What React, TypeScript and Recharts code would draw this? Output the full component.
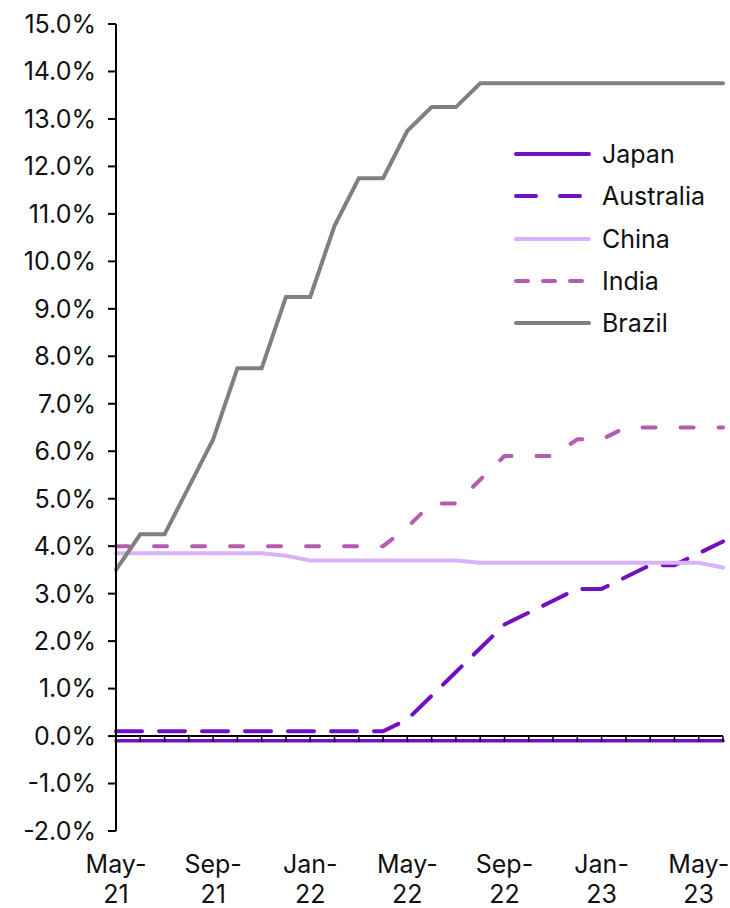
import { LineChart, Line, XAxis, YAxis, ReferenceLine, ReferenceDot } from 'recharts';

// monthly policy rates, May-21 .. Jun-23
const months = [
  'May-21', 'Jun-21', 'Jul-21', 'Aug-21', 'Sep-21', 'Oct-21', 'Nov-21', 'Dec-21',
  'Jan-22', 'Feb-22', 'Mar-22', 'Apr-22', 'May-22', 'Jun-22', 'Jul-22', 'Aug-22',
  'Sep-22', 'Oct-22', 'Nov-22', 'Dec-22', 'Jan-23', 'Feb-23', 'Mar-23', 'Apr-23',
  'May-23', 'Jun-23',
];
const japan = [
  -0.1, -0.1, -0.1, -0.1, -0.1, -0.1, -0.1, -0.1, -0.1, -0.1, -0.1, -0.1, -0.1,
  -0.1, -0.1, -0.1, -0.1, -0.1, -0.1, -0.1, -0.1, -0.1, -0.1, -0.1, -0.1, -0.1,
];
const australia = [
  0.1, 0.1, 0.1, 0.1, 0.1, 0.1, 0.1, 0.1, 0.1, 0.1, 0.1, 0.1, 0.35,
  0.85, 1.35, 1.85, 2.35, 2.6, 2.85, 3.1, 3.1, 3.35, 3.6, 3.6, 3.85, 4.1,
];
const china = [
  3.85, 3.85, 3.85, 3.85, 3.85, 3.85, 3.85, 3.8, 3.7, 3.7, 3.7, 3.7, 3.7,
  3.7, 3.7, 3.65, 3.65, 3.65, 3.65, 3.65, 3.65, 3.65, 3.65, 3.65, 3.65, 3.55,
];
const india = [
  4.0, 4.0, 4.0, 4.0, 4.0, 4.0, 4.0, 4.0, 4.0, 4.0, 4.0, 4.0, 4.4,
  4.9, 4.9, 5.4, 5.9, 5.9, 5.9, 6.25, 6.25, 6.5, 6.5, 6.5, 6.5, 6.5,
];
const brazil = [
  3.5, 4.25, 4.25, 5.25, 6.25, 7.75, 7.75, 9.25, 9.25, 10.75, 11.75, 11.75, 12.75,
  13.25, 13.25, 13.75, 13.75, 13.75, 13.75, 13.75, 13.75, 13.75, 13.75, 13.75, 13.75, 13.75,
];
const yTicks = [-2, -1, 0, 1, 2, 3, 4, 5, 6, 7, 8, 9, 10, 11, 12, 13, 14, 15];

const FONT = 'Inter, "Noto Sans", sans-serif';
const FS = 25;

const series = [
  { key: 'Japan', color: '#7010c0', dash: undefined as string | undefined, legendDash: undefined as string | undefined },
  { key: 'Australia', color: '#7010c0', dash: '26 17', legendDash: '20 24' },
  { key: 'China', color: '#dab2fb', dash: undefined, legendDash: undefined },
  { key: 'India', color: '#b65cb0', dash: '13 25', legendDash: '12 15' },
  { key: 'Brazil', color: '#808080', dash: undefined, legendDash: undefined },
];

const data = months.map((m, i) => ({
  month: m,
  Japan: japan[i],
  Australia: australia[i],
  China: china[i],
  India: india[i],
  Brazil: brazil[i],
}));

function MonthTick(props: any) {
  const { x, y, payload } = props;
  const [mon, yr] = String(payload.value).split('-');
  return (
    <text x={x} textAnchor="middle" fontFamily={FONT} fontSize={FS} fill="#111">
      <tspan x={x} y={y + 34}>{mon}-</tspan>
      <tspan x={x} y={y + 64}>{yr}</tspan>
    </text>
  );
}

function ZeroTick(props: any) {
  const { cx, cy } = props;
  return <line x1={cx} x2={cx} y1={cy} y2={cy + 6} stroke="#000" strokeWidth={1.5} />;
}

function LegendBox() {
  return (
    <div style={{ position: 'absolute', left: 511, top: 133, fontFamily: FONT, fontSize: FS, color: '#111' }}>
      {series.map((s) => (
        <div key={s.key} style={{ display: 'flex', alignItems: 'center', height: 42.3 }}>
          <svg width={83} height={10} style={{ marginRight: 8 }}>
            <line
              x1={5} x2={78} y1={5} y2={5}
              stroke={s.color}
              strokeWidth={4}
              strokeLinecap="round"
              strokeDasharray={s.legendDash}
            />
          </svg>
          <span>{s.key}</span>
        </div>
      ))}
    </div>
  );
}

export default function App() {
  return (
    <div style={{ position: 'absolute', left: 0, top: 0, width: 730, height: 908, background: '#fff' }}>
      <LineChart width={730} height={908} data={data} margin={{ top: 24, right: 7, bottom: 0, left: 0 }}>
        <XAxis
          dataKey="month"
          interval={3}
          axisLine={false}
          tickLine={false}
          height={77}
          tick={<MonthTick />}
        />
        <YAxis
          domain={[-2, 15]}
          ticks={yTicks}
          interval={0}
          width={116}
          axisLine={{ stroke: '#000', strokeWidth: 2 }}
          tickLine={{ stroke: '#000', strokeWidth: 2 }}
          tickSize={8}
          tickMargin={12}
          tickFormatter={(v: number) => `${v.toFixed(1)}%`}
          tick={{ fill: '#111', fontSize: FS, fontFamily: FONT }}
        />
        <ReferenceLine y={0} stroke="#000" strokeWidth={2} />
        {months.map((m) => (
          <ReferenceDot key={m} x={m} y={0} r={0} shape={<ZeroTick />} />
        ))}
        {series.map((s) => (
          <Line
            key={s.key}
            dataKey={s.key}
            type="linear"
            stroke={s.color}
            strokeWidth={s.key === 'Japan' ? 3.5 : 4}
            strokeDasharray={s.dash}
            strokeLinecap="round"
            dot={false}
            activeDot={false}
            isAnimationActive={false}
          />
        ))}
      </LineChart>
      <LegendBox />
    </div>
  );
}
